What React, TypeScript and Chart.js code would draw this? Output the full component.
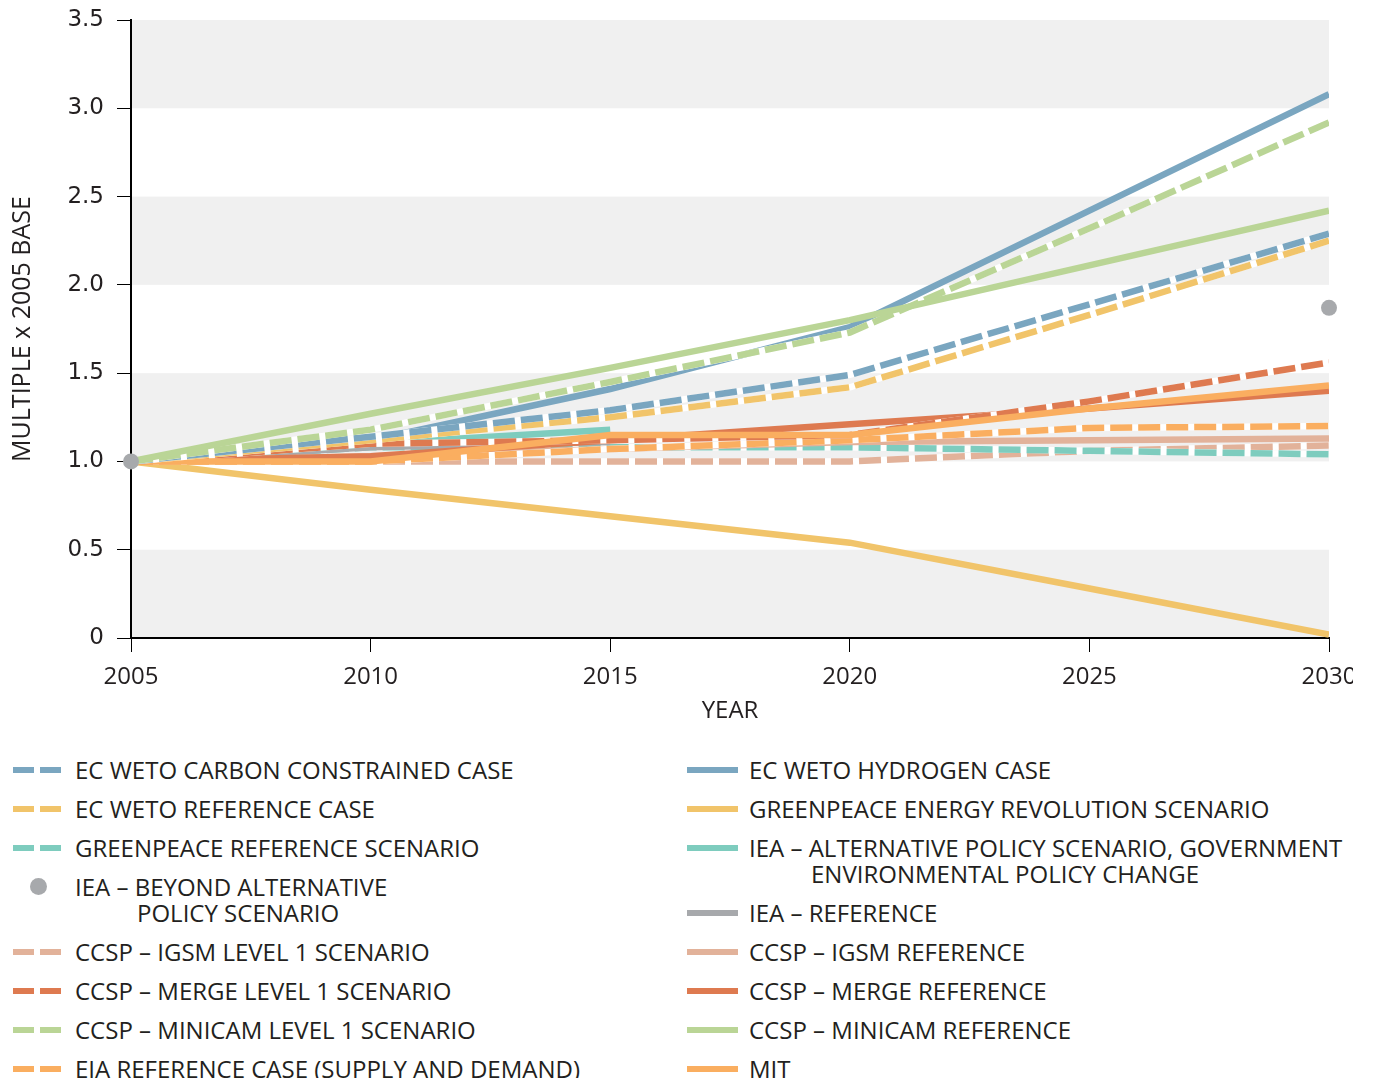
import React, { useEffect, useRef } from 'react';
import { Chart, registerables } from 'chart.js';

Chart.register(...registerables);

// ---------- data ----------
const years = [2005, 2010, 2015, 2020, 2025, 2030];
const yTickLabels = ['0', '0.5', '1.0', '1.5', '2.0', '2.5', '3.0', '3.5'];

const ecWetoCarbonConstrained = [1.0, 1.14, 1.29, 1.49, 1.89, 2.29];
const ecWetoReference = [1.0, 1.12, 1.25, 1.42, 1.83, 2.25];
const greenpeaceReference = [1.0, 1.08, 1.08, 1.08, 1.06, 1.04];
const ieaBeyondAlternative = [1.0, null, null, null, null, 1.87];
const ccspIgsmLevel1 = [1.0, 1.0, 1.0, 1.0, 1.06, 1.09];
const ccspMergeLevel1 = [1.0, 1.1, 1.12, 1.15, 1.34, 1.56];
const ccspMinicamLevel1 = [1.0, 1.18, 1.45, 1.73, 2.32, 2.92];
const eiaReference = [1.0, 1.0, 1.07, 1.12, 1.19, 1.2];

const ecWetoHydrogen = [1.0, 1.12, 1.41, 1.76, 2.42, 3.08];
const greenpeaceRevolution = [1.0, 0.84, 0.69, 0.54, 0.28, 0.02];
const ieaAlternative = [1.0, 1.1, 1.18, null, null, null];
const ieaReference = [1.0, 1.08, 1.11, null, null, null];
const ccspIgsmReference = [1.0, 1.03, 1.07, 1.11, 1.12, 1.13];
const ccspMergeReference = [1.0, 1.03, 1.12, 1.21, 1.3, 1.4];
const ccspMinicamReference = [1.0, 1.27, 1.53, 1.8, 2.11, 2.42];
const mit = [1.0, 1.0, 1.15, 1.15, 1.3, 1.43];

// ---------- styles ----------
const BLUE = '#7AA6C0';
const YELLOW = '#F1C46A';
const TEAL = '#7ECCBE';
const GRAY = '#A7A9AC';
const PINK = '#E2B29A';
const RED = '#DE7A50';
const GREEN = '#BAD596';
const ORANGE = '#FAAE60';
const BAND = '#F0F0F0';
const TEXT = '#231F20';

type Kind = 'solid' | 'dashed' | 'dot';
interface Series {
  key: string;
  label: string;
  values: (number | null)[];
  color: string;
  kind: Kind;
}

const S: Record<string, Series> = {
  cc: { key: 'cc', label: 'EC WETO CARBON CONSTRAINED CASE', values: ecWetoCarbonConstrained, color: BLUE, kind: 'dashed' },
  wetoRef: { key: 'wetoRef', label: 'EC WETO REFERENCE CASE', values: ecWetoReference, color: YELLOW, kind: 'dashed' },
  gpRef: { key: 'gpRef', label: 'GREENPEACE REFERENCE SCENARIO', values: greenpeaceReference, color: TEAL, kind: 'dashed' },
  ieaBeyond: { key: 'ieaBeyond', label: 'IEA – BEYOND ALTERNATIVE\nPOLICY SCENARIO', values: ieaBeyondAlternative, color: GRAY, kind: 'dot' },
  igsmL1: { key: 'igsmL1', label: 'CCSP – IGSM LEVEL 1 SCENARIO', values: ccspIgsmLevel1, color: PINK, kind: 'dashed' },
  mergeL1: { key: 'mergeL1', label: 'CCSP – MERGE LEVEL 1 SCENARIO', values: ccspMergeLevel1, color: RED, kind: 'dashed' },
  minicamL1: { key: 'minicamL1', label: 'CCSP – MINICAM LEVEL 1 SCENARIO', values: ccspMinicamLevel1, color: GREEN, kind: 'dashed' },
  eia: { key: 'eia', label: 'EIA REFERENCE CASE (SUPPLY AND DEMAND)', values: eiaReference, color: ORANGE, kind: 'dashed' },
  hydrogen: { key: 'hydrogen', label: 'EC WETO HYDROGEN CASE', values: ecWetoHydrogen, color: BLUE, kind: 'solid' },
  gpRev: { key: 'gpRev', label: 'GREENPEACE ENERGY REVOLUTION SCENARIO', values: greenpeaceRevolution, color: YELLOW, kind: 'solid' },
  ieaAlt: { key: 'ieaAlt', label: 'IEA – ALTERNATIVE POLICY SCENARIO, GOVERNMENT\nENVIRONMENTAL POLICY CHANGE', values: ieaAlternative, color: TEAL, kind: 'solid' },
  ieaRef: { key: 'ieaRef', label: 'IEA – REFERENCE', values: ieaReference, color: GRAY, kind: 'solid' },
  igsmRef: { key: 'igsmRef', label: 'CCSP – IGSM REFERENCE', values: ccspIgsmReference, color: PINK, kind: 'solid' },
  mergeRef: { key: 'mergeRef', label: 'CCSP – MERGE REFERENCE', values: ccspMergeReference, color: RED, kind: 'solid' },
  minicamRef: { key: 'minicamRef', label: 'CCSP – MINICAM REFERENCE', values: ccspMinicamReference, color: GREEN, kind: 'solid' },
  mit: { key: 'mit', label: 'MIT', values: mit, color: ORANGE, kind: 'solid' },
};

const legendLeft = ['cc', 'wetoRef', 'gpRef', 'ieaBeyond', 'igsmL1', 'mergeL1', 'minicamL1', 'eia'];
const legendRight = ['hydrogen', 'gpRev', 'ieaAlt', 'ieaRef', 'igsmRef', 'mergeRef', 'minicamRef', 'mit'];

// bottom first
const drawOrder = [
  'gpRev', 'igsmL1', 'gpRef', 'ieaRef', 'ieaAlt', 'igsmRef', 'eia', 'mergeRef', 'hydrogen',
  'mergeL1', 'mit', 'wetoRef', 'cc', 'minicamL1', 'minicamRef', 'ieaBeyond',
];

const LINE_W = 6.5;
const DASH = [22, 6];

const bandsPlugin = {
  id: 'bands',
  beforeDraw(chart: any) {
    const { ctx, chartArea, scales } = chart;
    const y = scales.y;
    ctx.save();
    ctx.fillStyle = BAND;
    for (let v = 0; v < 3.5; v += 1) {
      const top = y.getPixelForValue(v + 0.5);
      const bot = y.getPixelForValue(v);
      ctx.fillRect(chartArea.left, top, chartArea.right - chartArea.left, bot - top);
    }
    ctx.restore();
  },
};

function buildDatasets() {
  const ds: any[] = [];
  drawOrder.forEach((k) => {
    const s = S[k];
    const data = years.map((yr, i) => ({ x: yr, y: s.values[i] }));
    if (s.kind === 'dot') {
      ds.push({
        label: s.label,
        data: data.filter((p) => p.y !== null),
        showLine: false,
        pointRadius: 8,
        pointBackgroundColor: s.color,
        pointBorderWidth: 0,
        borderColor: s.color,
        clip: false,
      });
      return;
    }
    if (s.kind === 'dashed') {
      ds.push({
        label: s.label + ' casing',
        data,
        borderColor: '#FFFFFF',
        borderWidth: LINE_W,
        pointRadius: 0,
        tension: 0,
        spanGaps: false,
        borderCapStyle: 'butt',
      });
    }
    ds.push({
      label: s.label,
      data,
      borderColor: s.color,
      borderWidth: LINE_W,
      borderDash: s.kind === 'dashed' ? DASH : [],
      pointRadius: 0,
      tension: 0,
      spanGaps: false,
      borderCapStyle: 'butt',
    });
  });
  const n = ds.length;
  ds.forEach((d, i) => { d.order = n - i; });
  return ds;
}

function ChartCanvas() {
  const ref = useRef<HTMLCanvasElement | null>(null);
  useEffect(() => {
    if (!ref.current) return;
    const chart = new Chart(ref.current, {
      type: 'line',
      data: { datasets: buildDatasets() },
      plugins: [bandsPlugin],
      options: {
        animation: false,
        responsive: false,
        events: [],
        layout: { padding: { top: 12, right: 24, bottom: 0, left: 0 } },
        plugins: { legend: { display: false }, tooltip: { enabled: false } },
        scales: {
          x: {
            type: 'linear',
            min: years[0],
            max: years[years.length - 1],
            afterFit: (scale: any) => {
              scale.paddingLeft = 0;
              scale.paddingRight = 0;
              scale.height = 90;
            },
            ticks: {
              stepSize: 5,
              padding: 11,
              color: TEXT,
              font: { family: 'Open Sans', size: 24 },
              callback: (v: any) => String(v),
              maxRotation: 0,
            },
            grid: {
              drawOnChartArea: false,
              drawTicks: true,
              tickLength: 14,
              color: '#000',
              lineWidth: 1,
            },
            border: { display: true, color: '#000', width: 2 },
            title: {
              display: true,
              text: 'YEAR',
              color: TEXT,
              font: { family: 'Open Sans', size: 24 },
              padding: { top: 0, bottom: 2 },
            },
          },
          y: {
            min: 0,
            max: 3.5,
            afterFit: (scale: any) => {
              scale.paddingTop = 0;
              scale.paddingBottom = 0;
              scale.width = 123;
            },
            ticks: {
              stepSize: 0.5,
              padding: 13,
              color: TEXT,
              font: { family: 'DejaVu Sans', size: 23 },
              callback: (_v: any, i: number) => yTickLabels[i],
            },
            grid: {
              drawOnChartArea: false,
              drawTicks: true,
              tickLength: 14,
              color: '#000',
              lineWidth: 1,
            },
            border: { display: true, color: '#000', width: 2 },
            title: {
              display: true,
              text: 'MULTIPLE x 2005 BASE',
              color: TEXT,
              font: { family: 'Open Sans', size: 25 },
              padding: { top: 0, bottom: 0 },
            },
          },
        },
      },
    } as any);
    return () => chart.destroy();
  }, []);
  return <canvas ref={ref} width={1345} height={720} style={{ display: 'block' }} />;
}

function Swatch({ s }: { s: Series }) {
  if (s.kind === 'dot') {
    return (
      <div style={{ position: 'absolute', left: 17, top: 4, width: 17, height: 17, borderRadius: '50%', background: s.color }} />
    );
  }
  if (s.kind === 'dashed') {
    return (
      <>
        <div style={{ position: 'absolute', left: 0, top: 10, width: 21, height: 6, background: s.color }} />
        <div style={{ position: 'absolute', left: 27, top: 10, width: 21, height: 6, background: s.color }} />
      </>
    );
  }
  return <div style={{ position: 'absolute', left: 0, top: 10, width: 51, height: 6, background: s.color }} />;
}

function LegendColumn({ keys, left }: { keys: string[]; left: number }) {
  return (
    <div style={{ position: 'absolute', left, top: 0 }}>
      {keys.map((k) => {
        const s = S[k];
        return (
          <div key={k} style={{ display: 'flex', alignItems: 'flex-start', marginBottom: 13 }}>
            <div style={{ position: 'relative', width: 62, height: 26, flex: 'none' }}>
              <Swatch s={s} />
            </div>
            <div style={{ paddingLeft: 62, textIndent: -62, whiteSpace: 'pre-line', lineHeight: '26px' }}>{s.label}</div>
          </div>
        );
      })}
    </div>
  );
}

export default function App() {
  return (
    <div style={{ width: 1357, fontFamily: 'Open Sans', fontSize: 24, color: TEXT }}>
      <ChartCanvas />
      <div style={{ position: 'relative', marginTop: 29, height: 330 }}>
        <LegendColumn keys={legendLeft} left={5} />
        <LegendColumn keys={legendRight} left={679} />
      </div>
    </div>
  );
}
